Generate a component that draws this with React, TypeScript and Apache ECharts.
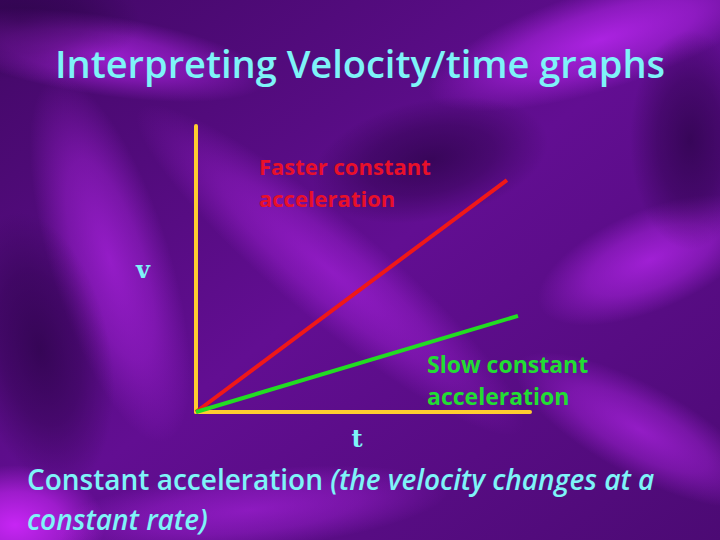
import React, { useEffect, useRef } from "react";
import * as echarts from "echarts";

const titleText = "Interpreting Velocity/time graphs";
const xName = "t";
const yName = "v";
const fastLabel = ["Faster constant", "acceleration"];
const slowLabel = ["Slow constant", "acceleration"];
const captionPlain = "Constant acceleration ";
const captionItalic1 = "(the velocity changes at a";
const captionItalic2 = "constant rate)";

const fastSeries: [number, number][] = [
  [0, 0],
  [93.1, 81.1],
];
const slowSeries: [number, number][] = [
  [0, 0],
  [96.4, 33.6],
];

const CYAN = "#7ef4f8";

export default function App() {
  const ref = useRef<HTMLDivElement>(null);
  useEffect(() => {
    document.body.style.margin = "0";
    const chart = echarts.init(ref.current!, null, { renderer: "svg" });
    const blob = (
      cx: number,
      cy: number,
      rx: number,
      ry: number,
      rot: number,
      rgb: string,
      a: number
    ) => ({
      type: "ellipse",
      shape: { cx: 0, cy: 0, rx, ry },
      x: cx,
      y: cy,
      rotation: rot,
      silent: true,
      z: 0,
      style: {
        fill: {
          type: "radial",
          x: 0.5,
          y: 0.5,
          r: 0.5,
          colorStops: [
            { offset: 0, color: `rgba(${rgb},${a})` },
            { offset: 0.55, color: `rgba(${rgb},${a * 0.6})` },
            { offset: 1, color: `rgba(${rgb},0)` },
          ],
        },
      },
    });
    const B = "190,40,245";
    const D = "30,0,55";
    chart.setOption({
      animation: false,
      backgroundColor: {
        type: "linear",
        x: 0,
        y: 0,
        x2: 1,
        y2: 1,
        colorStops: [
          { offset: 0, color: "#420866" },
          { offset: 0.5, color: "#620e92" },
          { offset: 1, color: "#4c0a74" },
        ],
      },
      graphic: [
        blob(100, 55, 170, 40, -0.15, B, 0.7),
        blob(600, 40, 180, 50, 0.3, B, 0.8),
        blob(110, 260, 60, 190, 0.3, B, 0.6),
        blob(330, 270, 250, 50, -0.7, B, 0.5),
        blob(650, 260, 120, 50, 0.4, B, 0.7),
        blob(640, 430, 140, 45, -0.5, B, 0.6),
        blob(15, 525, 90, 60, 0, "210,40,255", 0.9),
        blob(250, 510, 200, 40, 0.1, B, 0.5),
        blob(430, 160, 120, 60, 0.2, D, 0.6),
        blob(40, 350, 70, 140, 0.2, D, 0.6),
        blob(690, 140, 60, 110, 0, D, 0.6),
        blob(20, 20, 120, 60, 0, D, 0.5),
        {
          type: "text",
          left: "center",
          top: 44,
          z: 10,
          style: {
            text: titleText,
            fill: CYAN,
            font: "600 38px 'Open Sans', sans-serif",
          },
        },
        {
          type: "text",
          x: 259,
          y: 150,
          z: 10,
          style: {
            text: fastLabel.join("\n"),
            fill: "#e8102a",
            font: "bold 22px 'Open Sans', sans-serif",
            lineHeight: 32,
          },
        },
        {
          type: "text",
          x: 427,
          y: 348,
          z: 10,
          style: {
            text: slowLabel.join("\n"),
            fill: "#22dd33",
            font: "bold 23px 'Open Sans', sans-serif",
            lineHeight: 32,
          },
        },
        {
          type: "text",
          x: 27,
          y: 459,
          z: 10,
          style: {
            text:
              "{n|" + captionPlain + "}{i|" + captionItalic1 + "}\n{i|" + captionItalic2 + "}",
            fill: CYAN,
            rich: {
              n: { font: "600 28px 'Open Sans', sans-serif", fill: CYAN, lineHeight: 40 },
              i: { font: "italic 600 28px 'Open Sans', sans-serif", fill: CYAN, lineHeight: 40 },
            },
          },
        },
      ],
      grid: { left: 196, top: 126, width: 334, height: 286 },
      xAxis: {
        type: "value",
        min: 0,
        max: 100,
        name: xName,
        nameLocation: "middle",
        nameGap: 14,
        nameTextStyle: {
          color: CYAN,
          fontFamily: "'DejaVu Serif', serif",
          fontWeight: "bold",
          fontSize: 24,
          padding: [0, 12, 0, 0],
        },
        axisLine: { show: true, lineStyle: { color: "#ffcc30", width: 4 } },
        axisTick: { show: false },
        axisLabel: { show: false },
        splitLine: { show: false },
      },
      yAxis: {
        type: "value",
        min: 0,
        max: 100,
        name: yName,
        nameLocation: "middle",
        nameRotate: 0,
        nameGap: 46,
        nameTextStyle: {
          color: CYAN,
          fontFamily: "'DejaVu Serif', serif",
          fontWeight: "bold",
          fontSize: 24,
          padding: [0, 0, 6, 0],
        },
        axisLine: { show: true, lineStyle: { color: "#ffcc30", width: 4 } },
        axisTick: { show: false },
        axisLabel: { show: false },
        splitLine: { show: false },
      },
      series: [
        {
          type: "line",
          data: fastSeries,
          symbol: "none",
          lineStyle: { color: "#f01818", width: 4 },
          z: 3,
        },
        {
          type: "line",
          data: slowSeries,
          symbol: "none",
          lineStyle: { color: "#22dd22", width: 4 },
          z: 3,
        },
      ],
    });
    return () => chart.dispose();
  }, []);
  return <div ref={ref} style={{ width: 720, height: 540 }} />;
}
